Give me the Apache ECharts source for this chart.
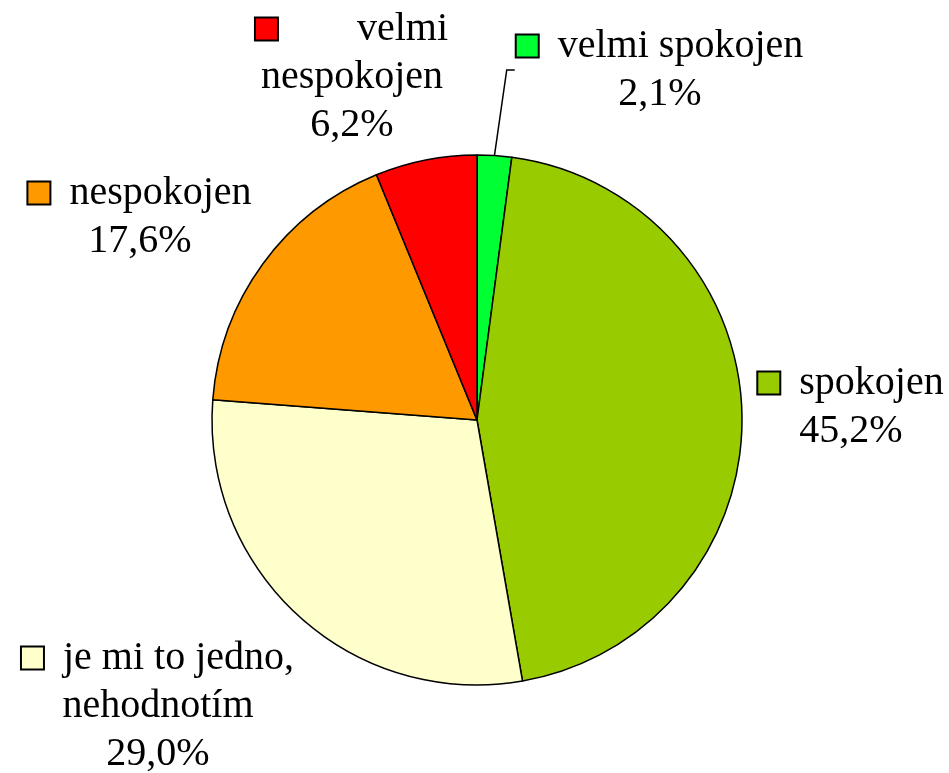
<!DOCTYPE html>
<html>
<head>
<meta charset="utf-8">
<script src="https://cdn.jsdelivr.net/npm/echarts@6/dist/echarts.min.js"></script>
<style>html,body{margin:0;padding:0;background:#fff;}#c{width:949px;height:773px;}</style>
</head>
<body>
<div id="c"></div>
<script>
const categories = ['velmi spokojen', 'spokojen', 'je mi to jedno, nehodnotím', 'nespokojen', 'velmi nespokojen'];
const labelTexts = ['velmi spokojen', 'spokojen', 'je mi to jedno,\nnehodnotím', 'nespokojen', '      velmi\nnespokojen'];
const values = [2.1, 45.2, 29.0, 17.6, 6.2];
const colors = ['#00FF33', '#99CC00', '#FFFFCC', '#FF9900', '#FF0000'];

const labelPos = [
  {x: 660, y: 70},
  {x: 851, y: 407},
  {x: 158, y: 706},
  {x: 140, y: 217},
  {x: 352, y: 77}
];

const rich = {};
colors.forEach((c, i) => {
  rich['sq' + i] = {width: 21, height: 21, backgroundColor: c, borderColor: '#000', borderWidth: 2};
});

const chart = echarts.init(document.getElementById('c'), null, {renderer: 'canvas'});
chart.setOption({
  animation: false,
  backgroundColor: '#fff',
  series: [{
    type: 'pie',
    center: [477, 420],
    radius: 265,
    startAngle: 90,
    clockwise: true,
    itemStyle: {borderColor: '#000', borderWidth: 1.5},
    label: {
      show: true,
      fontFamily: 'Liberation Serif',
      fontSize: 40,
      lineHeight: 48,
      color: '#000',
      align: 'center',
      overflow: 'none',
      formatter: function (p) {
        const t = labelTexts[p.dataIndex].split('\n');
        t[0] = '{sq' + p.dataIndex + '|}  ' + t[0];
        return t.join('\n') + '\n' + p.value.toFixed(1).replace('.', ',') + '%';
      },
      rich: rich
    },
    labelLine: {show: false},
    labelLayout: function (params) {
      const p = labelPos[params.dataIndex];
      return {x: p.x, y: p.y, align: 'center', verticalAlign: 'middle'};
    },
    data: categories.map((n, i) => ({
      name: n,
      value: values[i],
      itemStyle: {color: colors[i]},
      labelLine: i === 0 ? {show: true, length: 40, length2: 8, lineStyle: {color: '#000', width: 1.5}} : {show: false}
    }))
  }]
});
</script>
</body>
</html>
